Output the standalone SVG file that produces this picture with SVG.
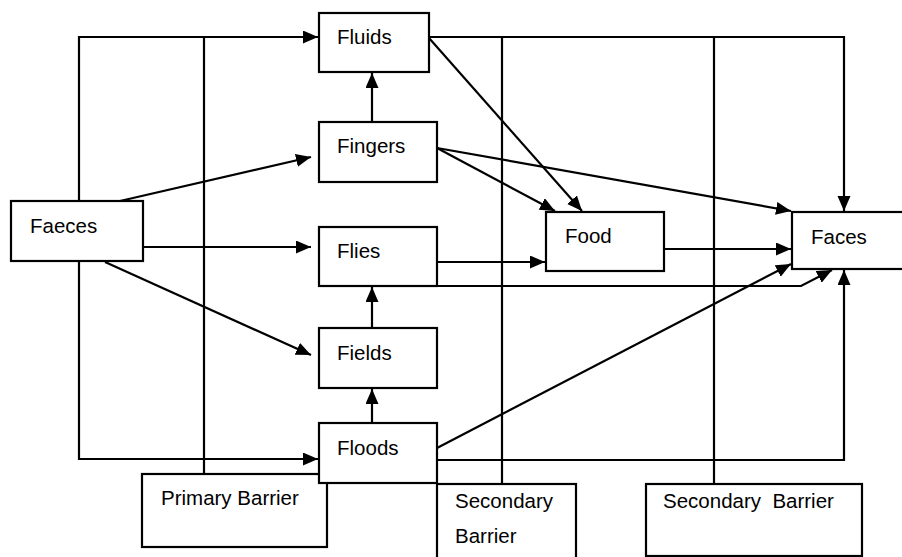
<svg xmlns="http://www.w3.org/2000/svg" width="902" height="557" viewBox="0 0 902 557">
<defs>
<marker id="ah" markerUnits="userSpaceOnUse" markerWidth="16" markerHeight="14" refX="15" refY="6.5" orient="auto">
<path d="M0,0 L15,6.5 L0,13 z" fill="#000"/>
</marker>
<style>
.box{fill:#fff;stroke:#000;stroke-width:2.2}
.ln{fill:none;stroke:#000;stroke-width:2.2}
.ar{fill:none;stroke:#000;stroke-width:2.2;marker-end:url(#ah)}
text{font-family:"Liberation Sans",Arial,sans-serif;font-size:20.5px;fill:#000}
</style>
</defs>
<rect width="902" height="557" fill="#fff"/>
<g id="connectors">
<!-- barrier lines -->
<path class="ln" d="M204,37 V474"/>
<path class="ln" d="M502,37 V484"/>
<path class="ln" d="M714,37 V484"/>
<!-- Faeces to Fluids / Floods -->
<path class="ar" d="M79,201 V37 H318"/>
<path class="ar" d="M79,262 V459 H318"/>
<!-- Faeces outgoing -->
<path class="ar" d="M120,201 L311,157"/>
<path class="ar" d="M143,247 L311,247"/>
<path class="ar" d="M105,262 L311,355"/>
<!-- vertical ups -->
<path class="ar" d="M372,122 V73"/>
<path class="ar" d="M372,328 V287"/>
<path class="ar" d="M372,423 V389"/>
<!-- Fluids -->
<path class="ar" d="M429,38 L582,211"/>
<path class="ar" d="M429,37 H844 V211"/>
<!-- Fingers -->
<path class="ar" d="M437,148 L555,211"/>
<path class="ar" d="M437,148 L791,211"/>
<!-- Flies -->
<path class="ar" d="M437,262 H545"/>
<path class="ar" d="M437,286 H801 L832,270"/>
<!-- Food -->
<path class="ar" d="M664,249 H791"/>
<!-- Floods -->
<path class="ar" d="M437,448 L791,264"/>
<path class="ar" d="M437,460 H844 V270"/>
</g>
<g id="faeces"><rect class="box" x="11" y="201" width="132" height="60"/><text x="30" y="233">Faeces</text></g>
<g id="fluids"><rect class="box" x="319" y="13" width="110" height="59"/><text x="337" y="44">Fluids</text></g>
<g id="fingers"><rect class="box" x="319" y="122" width="118" height="60"/><text x="337" y="153">Fingers</text></g>
<g id="flies"><rect class="box" x="319" y="227" width="118" height="59"/><text x="337" y="258">Flies</text></g>
<g id="fields"><rect class="box" x="319" y="328" width="118" height="60"/><text x="337" y="360">Fields</text></g>
<g id="primary-barrier"><rect class="box" x="142" y="474" width="185" height="73"/><text x="161" y="505">Primary Barrier</text></g>
<g id="floods"><rect class="box" x="319" y="423" width="118" height="60"/><text x="337" y="455">Floods</text></g>
<g id="food"><rect class="box" x="546" y="212" width="118" height="59"/><text x="565" y="243">Food</text></g>
<g id="faces"><rect class="box" x="792" y="212" width="112" height="57"/><text x="811" y="244">Faces</text></g>
<g id="secondary-barrier-1"><rect class="box" x="437" y="484" width="139" height="76"/><text x="455" y="508">Secondary</text><text x="455" y="543">Barrier</text></g>
<g id="secondary-barrier-2"><rect class="box" x="646" y="484" width="216" height="72"/><text x="663" y="508" xml:space="preserve">Secondary  Barrier</text></g>
</svg>
